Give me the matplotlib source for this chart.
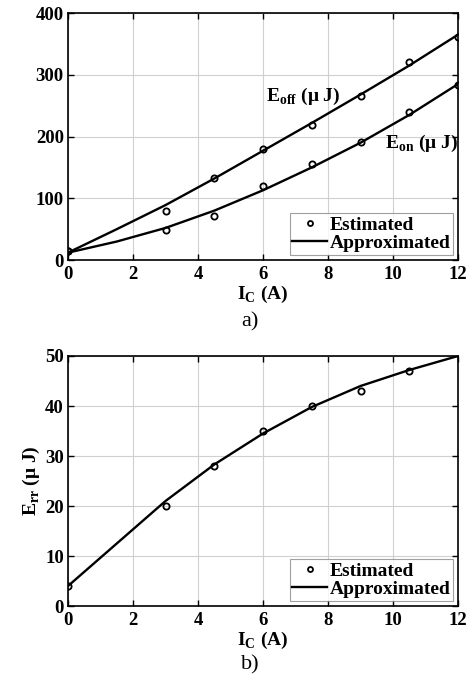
import matplotlib
matplotlib.use("Agg")
import matplotlib.pyplot as plt

# collector current, measured points
ic_est = [0, 3, 4.5, 6, 7.5, 9, 10.5, 12]
eoff_est = [14, 80, 133, 180, 218, 266, 320, 362]
eon_est = [14, 48, 72, 120, 155, 191, 240, 284]

# fitted curves
ic_fit = [0, 1.5, 3, 4.5, 6, 7.5, 9, 10.5, 12]
eoff_fit = [12, 50, 89, 132, 177, 222, 268, 315, 365]
eon_fit = [12, 30, 52, 80, 113, 150, 190, 235, 285]

err_est = [4, 20, 28, 35, 40, 43, 47]
err_fit = [4, 12.5, 21, 28.3, 34.5, 39.8, 44, 47.2, 50]

plt.rcParams["font.family"] = ["Liberation Serif", "DejaVu Serif"]
plt.rcParams["font.weight"] = "bold"
plt.rcParams["mathtext.fontset"] = "custom"
plt.rcParams["mathtext.rm"] = "Liberation Serif:bold"

fig = plt.figure(figsize=(4.7, 6.79), dpi=100)
ax1 = fig.add_axes([0.1447, 0.617, 0.8298, 0.3638])
ax2 = fig.add_axes([0.1447, 0.1075, 0.8298, 0.3682])

mk = dict(ls="none", marker="o", ms=4.5, mfc="none", mec="black", mew=1.3)
ln = dict(color="black", lw=1.7)


def style(ax, ymax, ystep):
    ax.set_xlim(0, 12)
    ax.set_ylim(0, ymax)
    ax.set_xticks(range(0, 13, 2))
    ax.set_yticks(range(0, ymax + 1, ystep))
    ax.grid(True, color="#d0d0d0", lw=0.8)
    ax.tick_params(direction="in", top=True, right=True, labelsize=13.5,
                   length=4, width=1)
    ax.tick_params(axis="x", pad=4.5)
    ax.tick_params(axis="y", pad=3)
    for lab in ax.get_xticklabels() + ax.get_yticklabels():
        lab.set_fontweight("bold")
    for s in ax.spines.values():
        s.set_linewidth(1.2)
    ax.set_xlabel(r"I$_\mathregular{C}$ (A)", fontsize=14, fontweight="bold",
                  labelpad=0.5)


def legend(ax):
    leg = ax.legend(loc="lower right", fontsize=14, frameon=True, fancybox=False,
                    handlelength=1.8, handletextpad=0.1, borderpad=0.15,
                    labelspacing=0.05, borderaxespad=0.25, markerscale=0.8)
    leg.get_frame().set_edgecolor("#888888")
    leg.get_frame().set_linewidth(0.8)


ax1.plot(ic_est, eoff_est, label="Estimated", **mk)
ax1.plot(ic_fit, eoff_fit, label="Approximated", **ln)
ax1.plot(ic_est, eon_est, **mk)
ax1.plot(ic_fit, eon_fit, **ln)
style(ax1, 400, 100)
ax1.text(6.1, 258, r"E$_\mathregular{off}$ ($\mathregular{\mu}$ J)", fontsize=14,
         fontweight="bold", va="baseline")
ax1.text(9.75, 182, r"E$_\mathregular{on}$ ($\mathregular{\mu}$ J)", fontsize=14,
         fontweight="bold", va="baseline")
legend(ax1)

ax2.plot(ic_est[:-1], err_est, label="Estimated", **mk)
ax2.plot(ic_fit, err_fit, label="Approximated", **ln)
style(ax2, 50, 10)
ax2.set_ylabel(r"E$_\mathregular{rr}$ ($\mathregular{\mu}$ J)", fontsize=14,
               fontweight="bold", labelpad=2)
legend(ax2)

fig.text(0.532, 1 - 322 / 679, "a)", fontsize=16, fontweight="normal",
         ha="center", va="center")
fig.text(0.532, 1 - 665 / 679, "b)", fontsize=16, fontweight="normal",
         ha="center", va="center")

fig.savefig("out.png", dpi=100)
